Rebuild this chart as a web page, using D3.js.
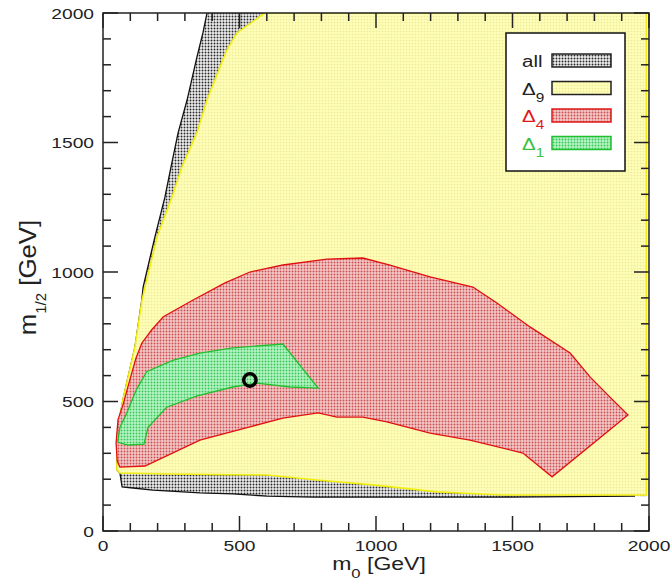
<!DOCTYPE html>
<html>
<head>
<meta charset="utf-8">
<script src="https://cdn.jsdelivr.net/npm/d3@7"></script>
<style>
  html, body { margin: 0; padding: 0; background: #ffffff; }
  svg { display: block; }
  text { font-family: "Liberation Sans", Arial, Helvetica, sans-serif; fill: #222; }
</style>
</head>
<body>
<svg id="chart" width="672" height="584"></svg>
<script>
// Allowed regions in the (m0, m1/2) plane, in GeV.
const regionAll = [
  [381,2000],[1990,2000],[1990,134],[1949,135],[1465,131],[1004,131],[769,131],[601,135],
  [476,143],[355,147],[183,158],[110,166],[70,170],[62,224],[51,236],[51,351],[55,402],
  [73,506],[92,595],[117,710],[142,892],[147,942],[190,1135],[227,1290],[249,1405],
  [275,1537],[308,1664],[344,1830],[366,1923]
];
const regionDelta9 = [
  [593,2000],[1990,2000],[1990,139],[1465,139],[1223,151],[989,178],[784,197],[601,216],
  [234,220],[62,224],[51,236],[51,351],[55,402],[73,506],[92,595],[117,710],[143,892],
  [154,942],[198,1135],[253,1290],[289,1405],[344,1537],[381,1664],[429,1792],[454,1857],
  [491,1923]
];
const regionDelta4 = [
  [48,340],[55,430],[74,490],[96,575],[120,665],[142,725],[178,776],[221,827],[330,892],
  [447,958],[538,1000],[659,1027],[821,1050],[952,1054],[1051,1027],[1198,981],[1355,942],
  [1443,880],[1564,788],[1711,687],[1784,595],[1857,517],[1923,448],[1645,209],[1538,301],
  [1344,351],[1198,378],[1040,421],[952,440],[857,440],[788,456],[659,436],[538,402],
  [355,351],[154,251],[62,247],[52,270]
];
const regionDelta1 = [
  [54,345],[62,400],[87,455],[122,545],[160,615],[258,660],[355,687],[476,707],[659,722],
  [788,552],[685,556],[564,571],[476,556],[345,522],[233,478],[165,400],[150,335],[93,332],
  [62,340]
];
const bestFit = [538, 583];

const majorTicks = [0, 500, 1000, 1500, 2000];
const minorTicks = d3.range(0, 2001, 100);
const legendItems = [
  { main: "all", sub: "",  fill: "url(#dotsAll)", stroke: "#222",    color: "#222" },
  { main: "\u0394", sub: "9", fill: "url(#dotsYellow)", stroke: "#222", color: "#222" },
  { main: "\u0394", sub: "4", fill: "url(#dotsRed)", stroke: "#e01818", color: "#e01818" },
  { main: "\u0394", sub: "1", fill: "url(#dotsGreen)", stroke: "#22c030", color: "#3cc040" }
];

const svg = d3.select("#chart");
const x = d3.scaleLinear().domain([0, 2000]).range([103, 649]);
const y = d3.scaleLinear().domain([0, 2000]).range([531, 13]);
const stretch = 1.28;   // glyphs are drawn wide

// Stipple fills
const defs = svg.append("defs");
function dots(id, bg, dot, r) {
  const p = defs.append("pattern").attr("id", id)
    .attr("width", 3).attr("height", 3).attr("patternUnits", "userSpaceOnUse");
  p.append("rect").attr("width", 3).attr("height", 3).attr("fill", bg);
  p.append("circle").attr("cx", 1.5).attr("cy", 1.5).attr("r", r).attr("fill", dot);
}
dots("dotsAll", "#eeeeee", "#2a2a2a", 0.95);
dots("dotsYellow", "#fefeb6", "#efe99a", 0.85);
dots("dotsRed", "#f4c8c8", "#cc5050", 0.95);
dots("dotsGreen", "#b8f5c4", "#38c65c", 0.95);

defs.append("clipPath").attr("id", "plotClip")
  .append("rect").attr("x", x(0)).attr("y", y(2000))
  .attr("width", x(2000) - x(0)).attr("height", y(0) - y(2000));

const line = d3.line().x(d => x(d[0])).y(d => y(d[1]));
const closed = d3.line().x(d => x(d[0])).y(d => y(d[1])).curve(d3.curveLinearClosed);
const plot = svg.append("g").attr("clip-path", "url(#plotClip)");

// all
plot.append("path").attr("d", closed(regionAll)).attr("fill", "url(#dotsAll)");
plot.append("path").attr("d", line(regionAll.slice(3).concat([regionAll[0]])))
  .attr("fill", "none").attr("stroke", "#111").attr("stroke-width", 1.3);
// Delta 9
plot.append("path").attr("d", closed(regionDelta9)).attr("fill", "url(#dotsYellow)")
  .attr("stroke", "#f2ee10").attr("stroke-width", 1.6);
// Delta 4
plot.append("path").attr("d", closed(regionDelta4)).attr("fill", "url(#dotsRed)")
  .attr("stroke", "#e01010").attr("stroke-width", 1.3);
// Delta 1
plot.append("path").attr("d", closed(regionDelta1)).attr("fill", "url(#dotsGreen)")
  .attr("stroke", "#22c030").attr("stroke-width", 1.3);
// best fit point
plot.append("circle").attr("cx", x(bestFit[0])).attr("cy", y(bestFit[1])).attr("r", 6.2)
  .attr("fill", "none").attr("stroke", "#000").attr("stroke-width", 3.5);

// Frame and ticks on all four sides, pointing inward
const axes = svg.append("g").attr("stroke", "#222").attr("stroke-width", 1.5);
axes.append("rect").attr("x", x(0)).attr("y", y(2000))
  .attr("width", x(2000) - x(0)).attr("height", y(0) - y(2000)).attr("fill", "none");
minorTicks.forEach(v => {
  const isMajor = majorTicks.includes(v);
  const len = isMajor ? 15 : 8;
  axes.append("line").attr("x1", x(v)).attr("x2", x(v)).attr("y1", y(0)).attr("y2", y(0) - len);
  axes.append("line").attr("x1", x(v)).attr("x2", x(v)).attr("y1", y(2000)).attr("y2", y(2000) + len);
  axes.append("line").attr("y1", y(v)).attr("y2", y(v)).attr("x1", x(0)).attr("x2", x(0) + len);
  axes.append("line").attr("y1", y(v)).attr("y2", y(v)).attr("x1", x(2000)).attr("x2", x(2000) - len);
});

// Tick labels
const labels = svg.append("g").style("font-size", "15px");
majorTicks.forEach(v => {
  labels.append("text").attr("text-anchor", "middle")
    .attr("transform", `translate(${x(v)},551) scale(${stretch},1)`).text(v);
  labels.append("text").attr("text-anchor", "end")
    .attr("transform", `translate(94,${y(v) + 5.5}) scale(${stretch},1)`).text(v);
});

// Axis titles
function titled(t, main, sub, rest, subSize, dy) {
  t.append("tspan").text(main);
  t.append("tspan").style("font-size", subSize + "px").attr("dy", dy).text(sub);
  t.append("tspan").attr("dy", -dy).text(rest);
}
const xt = svg.append("text").attr("text-anchor", "middle").style("font-size", "18px")
  .attr("transform", `translate(379,570) scale(${stretch},1)`);
titled(xt, "m", "0", " [GeV]", 13, 8);
const yt = svg.append("text").attr("text-anchor", "middle").style("font-size", "19px")
  .attr("transform", `translate(36,277.5) rotate(-90) scale(1.36,${stretch})`);
titled(yt, "m", "1/2", " [GeV]", 11, 8);

// Legend
const lg = svg.append("g");
lg.append("rect").attr("x", 506).attr("y", 33).attr("width", 119).attr("height", 138)
  .attr("fill", "#fff").attr("stroke", "#111").attr("stroke-width", 1.5);
legendItems.forEach((d, i) => {
  const base = 67 + i * 27.5;
  lg.append("rect").attr("x", 552).attr("y", base - 13).attr("width", 59).attr("height", 13)
    .attr("fill", d.fill).attr("stroke", d.stroke).attr("stroke-width", 1.5);
  const t = lg.append("text").style("font-size", "16px").style("fill", d.color)
    .attr("transform", `translate(522,${base}) scale(${stretch},1)`);
  t.append("tspan").style("fill", d.color).text(d.main);
  if (d.sub) t.append("tspan").style("fill", d.color).style("font-size", "12px").attr("dy", 7).text(d.sub);
});
</script>
</body>
</html>
